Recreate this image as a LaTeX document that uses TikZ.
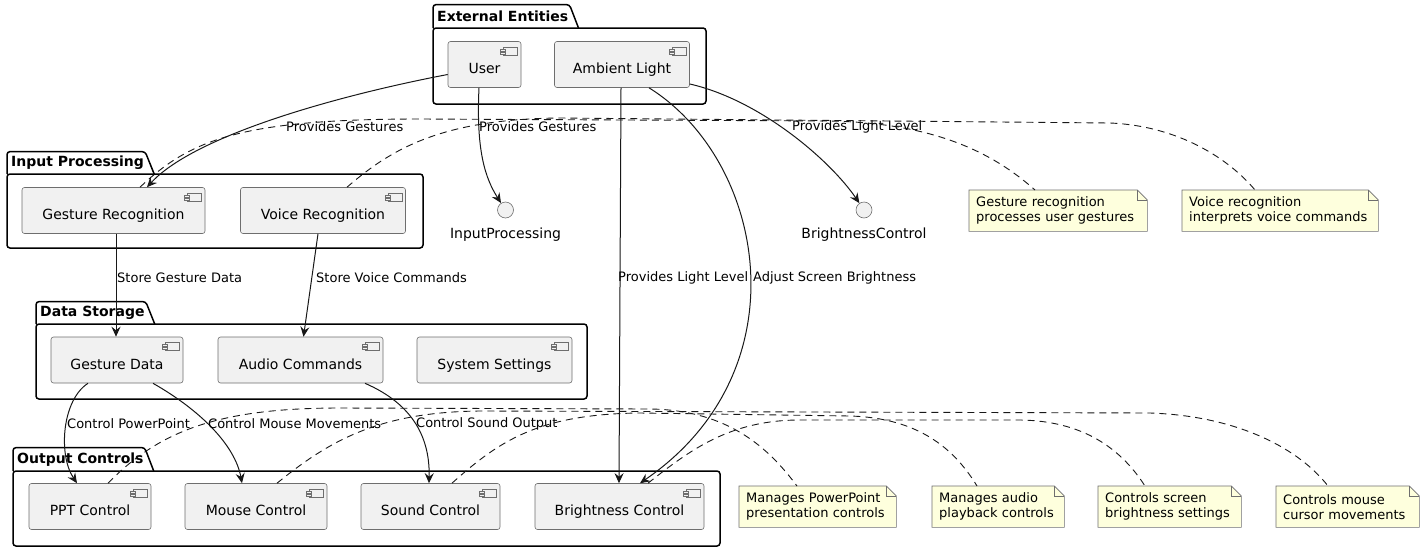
\documentclass[tikz,border=0pt]{standalone}
\usepackage{fontspec}
\setmainfont{DejaVu Sans}
\usetikzlibrary{arrows.meta}

\definecolor{boxfill}{HTML}{F1F1F1}
\definecolor{boxline}{HTML}{6E6E6E}
\definecolor{umlline}{HTML}{181818}
\definecolor{notefill}{HTML}{FEFFDD}

\newcommand{\compicon}[1]{%
  \draw[icon] ([shift={(-18,6)}]#1.north east) rectangle ++(14,8);
  \draw[icon] ([shift={(-21,8)}]#1.north east) rectangle ++(5,2);
  \draw[icon] ([shift={(-21,11)}]#1.north east) rectangle ++(5,2);}
\newcommand{\umlpackage}[7]{%
  \node[pkgtitle, anchor=south west, minimum height=#4-#3] (#1) at (#2,#4) {#7};
  \draw[pkgline, rounded corners=3pt] (#1.south west) |- ([xshift=-3pt]#1.north east) -- ([xshift=6pt]#1.south east);
  \draw[pkgline, rounded corners=3pt] (#2,#4) rectangle (#5,#6);}
\newcommand{\notefold}[1]{%
  \fill[white] ([xshift=-10pt]#1.north east) -- (#1.north east) -- ([yshift=-10pt]#1.north east) -- cycle;
  \draw[noteline] (#1.south west) -- (#1.north west) -- ([xshift=-10pt]#1.north east) -- ([yshift=-10pt]#1.north east) -- (#1.south east) -- cycle;
  \draw[noteline] ([xshift=-10pt]#1.north east) |- ([yshift=-10pt]#1.north east);}

\begin{document}
\begin{tikzpicture}[x=1pt,y=-1pt,
    comp/.style={draw=boxline, fill=boxfill, line width=0.6pt, rounded corners=2.5pt, minimum width=#1, minimum height=46pt, inner sep=0pt, text height=18pt, text depth=0pt, font=\fontsize{14}{16}\selectfont},
    icon/.style={draw=boxline, fill=boxfill, line width=0.6pt},
    pkgline/.style={draw=black, line width=1.5pt},
    pkgtitle/.style={font=\bfseries\fontsize{14}{16}\selectfont, inner xsep=4pt, inner ysep=0pt},
    iface/.style={circle, draw=boxline, fill=boxfill, line width=0.6pt, minimum size=16pt, inner sep=0pt},
    iflabel/.style={font=\fontsize{14}{16}\selectfont, inner sep=0pt},
    note/.style={anchor=north west, fill=notefill, align=left, text width=#1, minimum height=41pt, inner xsep=7pt, inner ysep=0pt, font=\fontsize{13}{15}\selectfont},
    noteline/.style={draw=boxline, line width=0.6pt},
    elabel/.style={anchor=west, inner sep=0pt, font=\fontsize{13}{15}\selectfont},
    flow/.style={draw=umlline, line width=1pt, -{Stealth[length=10pt,width=9pt,inset=3.5pt]}},
    notelink/.style={draw=umlline, line width=0.9pt, dash pattern=on 7pt off 5pt}]
  \useasboundingbox (0,0) rectangle (1424,552);

  \umlpackage{ext}{433}{5}{28}{706}{104}{External Entities}
  \umlpackage{inp}{7}{152}{174}{423}{248}{Input Processing}
  \umlpackage{dat}{36}{302}{324}{587}{399}{Data Storage}
  \umlpackage{out}{13}{448}{471}{720}{546}{Output Controls}

  \node[comp=73pt] (user) at (484.5,64.5) {User};
  \node[comp=135pt] (amb) at (622,64.5) {Ambient Light};
  \node[comp=183pt] (gr) at (113.5,210.5) {Gesture Recognition};
  \node[comp=165pt] (vr) at (323,210.5) {Voice Recognition};
  \node[comp=132pt] (gd) at (117,360) {Gesture Data};
  \node[comp=165pt] (ac) at (300.5,360) {Audio Commands};
  \node[comp=155pt] (ss) at (494.5,360) {System Settings};
  \node[comp=122pt] (ppt) at (90,506.5) {PPT Control};
  \node[comp=142pt] (mc) at (256,506.5) {Mouse Control};
  \node[comp=139pt] (sc) at (430.5,506.5) {Sound Control};
  \node[comp=169pt] (bc) at (619.5,506.5) {Brightness Control};
  \foreach \c in {user,amb,gr,vr,gd,ac,ss,ppt,mc,sc,bc} {\compicon{\c}}

  \node[iface] (ipif) at (505.5,210) {};
  \node[iflabel] (ipiflbl) at (505.5,235) {InputProcessing};
  \node[iface] (bcif) at (864,210) {};
  \node[iflabel] (bciflbl) at (864,235) {BrightnessControl};

  \node[note=164pt] (gnote) at (969,190) {Gesture recognition\\processes user gestures};
  \node[note=182pt] (vnote) at (1182,190) {Voice recognition\\interprets voice commands};
  \node[note=143pt] (pptnote) at (739,486) {Manages PowerPoint\\presentation controls};
  \node[note=118pt] (sndnote) at (932,486) {Manages audio\\playback controls};
  \node[note=129pt] (brtnote) at (1098,486) {Controls screen\\brightness settings};
  \node[note=129pt] (msnote) at (1276,486) {Controls mouse\\cursor movements};
  \foreach \n in {gnote,vnote,pptnote,sndnote,brtnote,msnote} {\notefold{\n}}

  \draw[flow] ([yshift=-10pt]user.west) .. controls (340,95) and (195,135) .. ([xshift=33.5pt]gr.north);
  \draw[flow] ([xshift=-5.5pt]user.south) .. controls (476,150) and (485,178) .. (ipif);
  \draw[flow] ([yshift=-19.5pt]amb.east) .. controls (760,100) and (830,160) .. (bcif);
  \draw[flow] ([xshift=-1pt]amb.south) -- ([xshift=-0.5pt]bc.north);
  \draw[flow] ([xshift=27pt]amb.south) .. controls (765,160) and (805,370) .. ([xshift=20.5pt]bc.north);
  \draw[flow] ([xshift=2.5pt]gr.south) -- ([xshift=-1pt]gd.north);
  \draw[flow] ([xshift=-5pt]vr.south) -- ([xshift=3pt]ac.north);
  \draw[flow] ([xshift=-29pt]gd.south) .. controls (62,400) and (58,455) .. ([xshift=-13pt]ppt.north);
  \draw[flow] ([xshift=36pt]gd.south) .. controls (200,410) and (235,445) .. ([xshift=-14pt]mc.north);
  \draw[flow] ([xshift=64.5pt]ac.south) .. controls (415,405) and (430,440) .. ([xshift=-1.5pt]sc.north);

  \node[elabel] (lgest1) at (286,127) {Provides Gestures};
  \node[elabel] (lgest2) at (479,127) {Provides Gestures};
  \node[elabel] (llight1) at (792,127) {Provides Light Level};
  \node[elabel] (llight2) at (618,278) {Provides Light Level};
  \node[elabel] (ladjust) at (753,278) {Adjust Screen Brightness};
  \node[elabel] (lstoreg) at (117,278) {Store Gesture Data};
  \node[elabel] (lstorev) at (316,278) {Store Voice Commands};
  \node[elabel] (lppt) at (67,424) {Control PowerPoint};
  \node[elabel] (lmouse) at (208,424) {Control Mouse Movements};
  \node[elabel] (lsound) at (416,424) {Control Sound Output};

  \draw[notelink] ([xshift=26.5pt]gr.north) .. controls (190,140) and (240,119) .. (420,119) -- (830,121) .. controls (930,123) and (990,150) .. ([xshift=66pt]gnote.north west);
  \draw[notelink] ([xshift=24pt]vr.north) .. controls (390,150) and (440,119) .. (560,118) -- (1110,123) .. controls (1180,126) and (1230,160) .. ([xshift=73pt]vnote.north west);
  \draw[notelink] ([xshift=18pt]ppt.north) .. controls (160,430) and (220,408) .. (340,408) -- (650,409) .. controls (730,410) and (770,450) .. ([xshift=58pt]pptnote.north west);
  \draw[notelink] ([xshift=21pt]mc.north) .. controls (330,440) and (380,412) .. (480,411) -- (1150,413) .. controls (1240,416) and (1300,450) .. ([xshift=52pt]msnote.north west);
  \draw[notelink] ([xshift=21.5pt]sc.north) .. controls (500,440) and (540,414) .. (640,413) -- (850,416) .. controls (920,418) and (955,450) .. ([xshift=45pt]sndnote.north west);
  \draw[notelink] ([xshift=28.5pt]bc.north) .. controls (690,450) and (730,420) .. (800,420) -- (1020,420) .. controls (1090,421) and (1125,455) .. ([xshift=47pt]brtnote.north west);
\end{tikzpicture}
\end{document}
